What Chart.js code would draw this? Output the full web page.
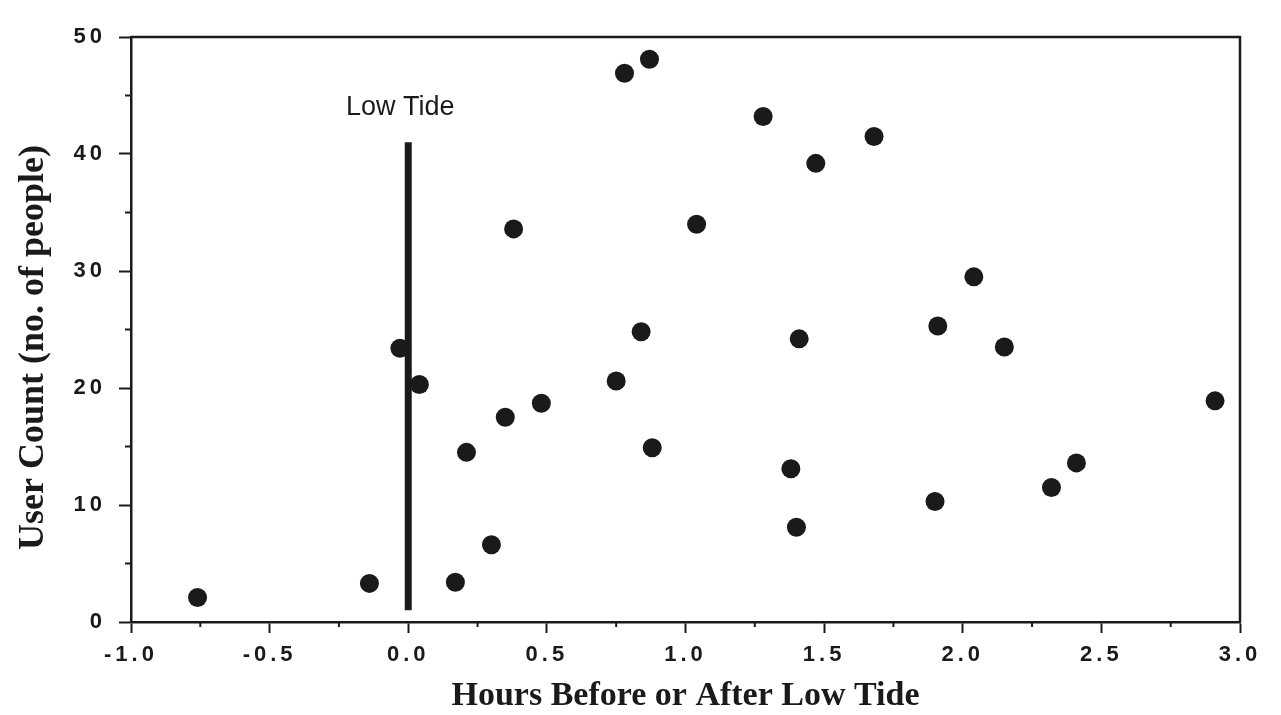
<!DOCTYPE html>
<html>
<head>
<meta charset="utf-8">
<script src="https://cdn.jsdelivr.net/npm/chart.js@4.4.1/dist/chart.umd.min.js"></script>
<style>
  html, body { margin: 0; padding: 0; background: #fff; }
  canvas { display: block; }
</style>
</head>
<body>
<canvas id="tideChart" width="1281" height="715"></canvas>
<script>
// hours relative to low tide, and user counts
var hours = [-0.76, -0.14, -0.03, 0.04, 0.17, 0.21, 0.30, 0.35, 0.38, 0.48,
             0.75, 0.78, 0.84, 0.87, 0.88, 1.04, 1.28, 1.38, 1.40, 1.41,
             1.47, 1.68, 1.90, 1.91, 2.04, 2.15, 2.32, 2.41, 2.91];
var users = [2.1, 3.3, 23.4, 20.3, 3.4, 14.5, 6.6, 17.5, 33.6, 18.7,
             20.6, 46.9, 24.8, 48.1, 14.9, 34.0, 43.2, 13.1, 8.1, 24.2,
             39.2, 41.5, 10.3, 25.3, 29.5, 23.5, 11.5, 13.6, 18.9];

// low tide marker line
var tideX = [0, 0];
var tideY = [1, 41];
var tideLabel = 'Low Tide';
var tideLabelY = 44.0;

var xTicks = [-1.0, -0.5, 0.0, 0.5, 1.0, 1.5, 2.0, 2.5, 3.0];
var yTicks = [0, 10, 20, 30, 40, 50];

var ink = '#1a1a1a';
var tickFont = { family: '"Liberation Sans", Arial, sans-serif', size: 22, weight: 'bold' };
var titleFamily = '"Liberation Serif", "Times New Roman", serif';

function isMajor(v, list) {
  return list.some(function (t) { return Math.abs(t - v) < 1e-6; });
}

// frame on top/right, minor ticks, spaced tick labels and the Low Tide label
var extras = {
  id: 'extras',
  afterDatasetsDraw: function (chart) {
    // tick labels are drawn after this (ticks.z = 1), the scanned labels are widely spaced
    chart.ctx.letterSpacing = '4px';
  },
  afterDraw: function (chart) {
    var ctx = chart.ctx, a = chart.chartArea;
    var xs = chart.scales.x, ys = chart.scales.y;
    ctx.letterSpacing = '0px';
    ctx.save();
    ctx.strokeStyle = ink;
    ctx.lineWidth = 2.5;
    ctx.beginPath();
    ctx.moveTo(a.left, a.top);
    ctx.lineTo(a.right, a.top);
    ctx.lineTo(a.right, a.bottom);
    ctx.stroke();

    ctx.lineWidth = 2;
    ctx.beginPath();
    xs.ticks.forEach(function (t) {
      if (!isMajor(t.value, xTicks)) {
        var px = xs.getPixelForValue(t.value);
        ctx.moveTo(px, a.bottom);
        ctx.lineTo(px, a.bottom + 5);
      }
    });
    ys.ticks.forEach(function (t) {
      if (!isMajor(t.value, yTicks)) {
        var py = ys.getPixelForValue(t.value);
        ctx.moveTo(a.left, py);
        ctx.lineTo(a.left - 6, py);
      }
    });
    ctx.stroke();

    ctx.fillStyle = ink;
    ctx.font = '27px "Liberation Sans", Arial, sans-serif';
    ctx.textAlign = 'center';
    ctx.textBaseline = 'middle';
    ctx.fillText(tideLabel, xs.getPixelForValue(tideX[0]) - 8, ys.getPixelForValue(tideLabelY));
    ctx.restore();
  }
};

new Chart(document.getElementById('tideChart').getContext('2d'), {
  type: 'scatter',
  data: {
    datasets: [{
      label: 'Users',
      data: hours.map(function (h, i) { return { x: h, y: users[i] }; }),
      backgroundColor: ink,
      borderWidth: 0,
      pointRadius: 9.5,
      pointHoverRadius: 9.5
    }, {
      label: 'Low tide',
      type: 'line',
      data: tideX.map(function (h, i) { return { x: h, y: tideY[i] }; }),
      borderColor: ink,
      borderWidth: 7,
      borderCapStyle: 'butt',
      pointRadius: 0,
      fill: false
    }]
  },
  options: {
    responsive: false,
    animation: false,
    events: [],
    layout: { padding: { left: 0, top: 37, right: 41, bottom: 0 } },
    plugins: {
      legend: { display: false },
      tooltip: { enabled: false }
    },
    scales: {
      x: {
        type: 'linear',
        min: -1,
        max: 3,
        afterFit: function (scale) { scale.height = 93; },
        border: { color: ink, width: 2.5 },
        grid: {
          drawOnChartArea: false,
          tickLength: 11,
          tickWidth: 2,
          tickColor: function (c) { return isMajor(c.tick.value, xTicks) ? ink : 'rgba(0,0,0,0)'; }
        },
        ticks: {
          z: 1,
          stepSize: 0.25,
          color: ink,
          padding: 9,
          maxRotation: 0,
          autoSkip: false,
          font: tickFont,
          callback: function (v) { return isMajor(v, xTicks) ? v.toFixed(1) : ''; }
        },
        title: {
          display: true,
          text: 'Hours Before or After Low Tide',
          color: ink,
          font: { family: titleFamily, size: 34, weight: 'bold', lineHeight: 1.1 },
          padding: { top: 0, bottom: 0 }
        }
      },
      y: {
        type: 'linear',
        min: 0,
        max: 50,
        afterFit: function (scale) { scale.width = 131; },
        border: { color: ink, width: 2.5 },
        grid: {
          drawOnChartArea: false,
          tickLength: 12,
          tickWidth: 2,
          tickColor: function (c) { return isMajor(c.tick.value, yTicks) ? ink : 'rgba(0,0,0,0)'; }
        },
        ticks: {
          z: 1,
          stepSize: 5,
          color: ink,
          padding: 13,
          autoSkip: false,
          font: tickFont,
          callback: function (v) { return isMajor(v, yTicks) ? String(v) : ''; }
        },
        title: {
          display: true,
          text: 'User Count (no. of people)\u2003',
          color: ink,
          font: { family: titleFamily, size: 36, weight: 'bold' },
          padding: { top: 12, bottom: 0 }
        }
      }
    }
  },
  plugins: [extras]
});
</script>
</body>
</html>
